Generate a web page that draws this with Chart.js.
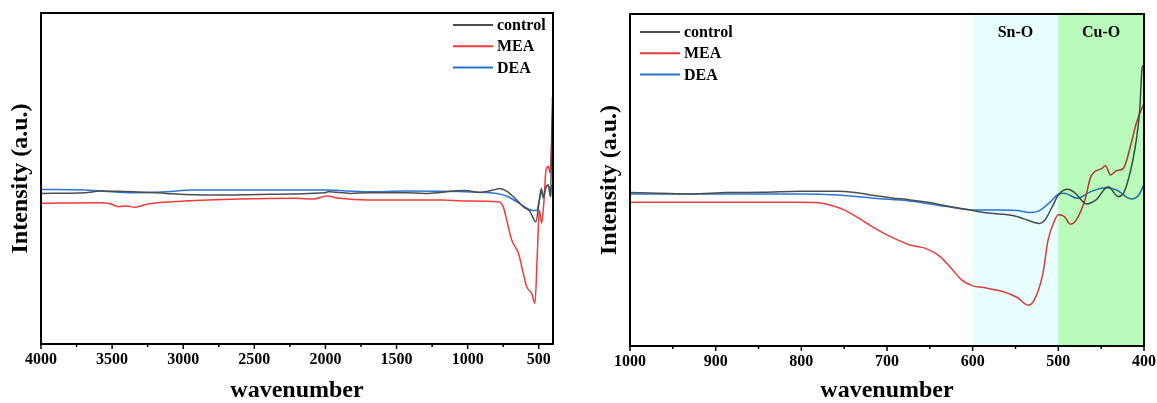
<!DOCTYPE html>
<html>
<head>
<meta charset="utf-8">
<script src="https://cdn.jsdelivr.net/npm/chart.js@4.4.1/dist/chart.umd.min.js"></script>
<style>
  html, body { margin: 0; padding: 0; background: #fff; }
  #wrap { position: relative; width: 1157px; height: 403px; }
  #c1 { position: absolute; left: 0; top: 0; width: 580px; height: 403px; }
  #c2 { position: absolute; left: 580px; top: 0; width: 577px; height: 403px; }
</style>
</head>
<body>
<div id="wrap">
  <canvas id="c1" width="580" height="403"></canvas>
  <canvas id="c2" width="577" height="403"></canvas>
</div>
<script>
// --- series names / colours ---
const seriesNames = ['control', 'MEA', 'DEA'];
const seriesColors = ['#4d4d4d', '#ef3b3b', '#2b74d6'];

// --- full spectrum 4000-400 (left panel) ---
const fullControlX = [4000, 3690, 3585, 3350, 3120, 2990, 2730, 2470, 2005, 1980, 1825, 1695, 1435, 1305, 1020, 913, 820, 773, 726, 679, 609, 562, 520, 496, 482, 468, 452, 433, 417, 404, 400];
const fullControlY = [45.5, 45.7, 46.2, 46.0, 45.5, 45.2, 45.0, 45.2, 45.7, 46.0, 45.5, 45.7, 45.7, 45.5, 46.4, 45.8, 46.5, 47.0, 46.2, 44.5, 41.5, 40.0, 36.9, 43.5, 47.0, 44.1, 47.0, 48.0, 44.5, 74.5, 46.0];

const fullMeaX = [4000, 3585, 3508, 3456, 3404, 3340, 3249, 2990, 2600, 2212, 2083, 1992, 1902, 1695, 1176, 1020, 785, 750, 726, 690, 643, 609, 585, 550, 527, 510, 496, 480, 463, 449, 433, 421, 409, 402, 400];
const fullMeaY = [42.5, 42.7, 42.3, 41.5, 41.7, 41.3, 42.3, 43.2, 43.8, 44.0, 43.8, 44.7, 44.0, 43.5, 43.5, 43.2, 43.0, 41.5, 37.5, 31.4, 27.4, 21.4, 17.3, 15.3, 12.3, 27.5, 40.5, 36.5, 43.5, 52.6, 53.6, 51.7, 60.7, 67.7, 52.6];

const fullDeaX = [4000, 3690, 3378, 3119, 2938, 2470, 2005, 1695, 1435, 1020, 797, 726, 656, 585, 538, 515, 496, 482, 468, 452, 433, 417, 409, 400];
const fullDeaY = [46.7, 46.5, 45.7, 46.0, 46.5, 46.5, 46.5, 46.0, 46.2, 46.0, 45.5, 44.7, 43.0, 41.0, 40.3, 40.3, 43.5, 46.0, 44.5, 47.5, 48.0, 44.5, 48.0, 45.5];

// --- zoomed 1000-400 (right panel) ---
const zoomControlX = [1000, 966, 930, 887, 844, 801, 758, 737, 715, 694, 673, 651, 630, 600, 587, 565, 552, 540, 527, 522, 516, 507, 500, 489, 481, 467, 456, 442, 430, 424, 419, 413, 409, 405, 402, 400];
const zoomControlY = [46.2, 46.0, 45.8, 46.2, 46.3, 46.6, 46.6, 46.2, 45.3, 44.6, 44.0, 43.2, 42.2, 40.8, 40.2, 39.7, 39.2, 38.3, 37.1, 36.9, 37.8, 42.0, 45.5, 47.2, 46.2, 42.8, 44.0, 48.0, 45.0, 46.0, 49.5, 56.0, 62.0, 71.1, 84.1, 84.5];

const zoomMeaX = [1000, 930, 801, 784, 767, 750, 733, 715, 694, 673, 655, 638, 625, 613, 600, 587, 565, 548, 535, 527, 518, 512, 505, 500, 493, 486, 479, 469, 462, 449, 445, 439, 432, 424, 415, 409, 400];
const zoomMeaY = [43.3, 43.3, 43.3, 43.2, 42.5, 41.0, 38.5, 35.6, 32.7, 30.4, 29.4, 26.9, 23.4, 19.9, 18.1, 17.6, 16.4, 14.6, 12.3, 14.4, 21.9, 31.9, 37.4, 39.5, 39.0, 36.7, 38.0, 44.0, 51.0, 53.5, 54.3, 51.5, 52.8, 53.5, 61.0, 67.1, 73.1];

const zoomDeaX = [1000, 930, 801, 758, 715, 673, 630, 600, 565, 548, 533, 522, 509, 500, 493, 478, 462, 445, 432, 415, 406, 400];
const zoomDeaY = [45.8, 45.8, 45.8, 45.5, 44.5, 43.7, 42.0, 41.0, 41.0, 40.8, 40.2, 40.8, 43.5, 45.7, 46.0, 44.5, 46.5, 47.7, 47.0, 44.3, 45.5, 48.7];

// --- tick labels (minor ticks sit halfway between) ---
const fullTickLabels = [4000, 3500, 3000, 2500, 2000, 1500, 1000, 500];
const zoomTickLabels = [1000, 900, 800, 700, 600, 500, 400];

// --- assignment bands (right panel) ---
const bandNames = ['Sn-O', 'Cu-O'];
const bandFrom = [600, 500];
const bandTo = [500, 400];

const SERIF = '"Liberation Serif", "Times New Roman", serif';

function pairs(xs, ys) {
    return xs.map((x, i) => ({ x: x, y: ys[i] }));
}

function makeDatasets(sets) {
    return sets.map((s, i) => ({
        label: seriesNames[i],
        data: pairs(s[0], s[1]),
        borderColor: seriesColors[i],
        borderWidth: 1.5,
        pointRadius: 0,
        fill: false,
        cubicInterpolationMode: 'monotone'
    }));
}

// major + half-way minor ticks
function withMinor(major) {
    const out = [];
    major.forEach((v, i) => {
        out.push(v);
        if (i < major.length - 1) out.push((v + major[i + 1]) / 2);
    });
    return out;
}

// frame, tick marks, legend, bands
function decoPlugin(o) {
    return {
        id: 'deco',
        afterDatasetsDraw(chart) {
            const ctx = chart.ctx;
            const a = chart.chartArea;
            const xs = chart.scales.x;
            ctx.save();

            if (o.bands) {
                // multiply so lines underneath take the band tint
                ctx.globalCompositeOperation = 'multiply';
                o.bands.forEach((b, i) => {
                    const x1 = xs.getPixelForValue(bandFrom[i]);
                    const x2 = xs.getPixelForValue(bandTo[i]);
                    ctx.fillStyle = b;
                    ctx.fillRect(Math.min(x1, x2), a.top, Math.abs(x2 - x1), a.bottom - a.top);
                });
                ctx.globalCompositeOperation = 'source-over';
                ctx.fillStyle = '#000';
                ctx.font = 'bold 16px ' + SERIF;
                ctx.textAlign = 'center';
                ctx.textBaseline = 'middle';
                bandNames.forEach((n, i) => {
                    const cx = (xs.getPixelForValue(bandFrom[i]) + xs.getPixelForValue(bandTo[i])) / 2;
                    ctx.fillText(n, cx, a.top + 19);
                });
            }

            // frame
            ctx.strokeStyle = '#000';
            ctx.lineWidth = 2;
            ctx.strokeRect(a.left, a.top, a.right - a.left, a.bottom - a.top);

            // ticks (major longer)
            ctx.lineWidth = 1.5;
            xs.ticks.forEach(t => {
                const px = xs.getPixelForValue(t.value);
                const len = o.major.includes(t.value) ? 5 : 3;
                ctx.beginPath();
                ctx.moveTo(px, a.bottom);
                ctx.lineTo(px, a.bottom + len);
                ctx.stroke();
            });

            // legend
            const L = o.legend;
            ctx.font = 'bold 16px ' + SERIF;
            ctx.textAlign = 'left';
            ctx.textBaseline = 'middle';
            chart.data.datasets.forEach((ds, i) => {
                const y = L.y0 + i * L.dy;
                ctx.strokeStyle = ds.borderColor;
                ctx.lineWidth = 2;
                ctx.beginPath();
                ctx.moveTo(L.x1, y);
                ctx.lineTo(L.x2, y);
                ctx.stroke();
                ctx.fillStyle = '#000';
                ctx.fillText(ds.label, L.tx, y + 1);
            });

            ctx.restore();
        }
    };
}

function makeChart(id, sets, o) {
    const tickValues = withMinor(o.major);
    return new Chart(document.getElementById(id), {
        type: 'line',
        data: { datasets: makeDatasets(sets) },
        options: {
            responsive: false,
            animation: false,
            layout: { padding: { top: o.top, right: o.right, left: 0, bottom: 0 } },
            plugins: { legend: { display: false }, tooltip: { enabled: false } },
            scales: {
                x: {
                    type: 'linear',
                    reverse: true,
                    min: o.min,
                    max: o.max,
                    afterBuildTicks: s => { s.ticks = tickValues.map(v => ({ value: v })); },
                    afterFit: s => {
                        s.height = o.xHeight;
                        s.paddingLeft = 0;
                        s.paddingRight = 0;
                    },
                    grid: { display: false, drawTicks: false },
                    border: { display: false },
                    ticks: {
                        autoSkip: false,
                        maxRotation: 0,
                        padding: 6,
                        color: '#000',
                        font: { family: SERIF, size: 16, weight: 'bold' },
                        callback: v => (o.major.includes(v) ? String(v) : '')
                    },
                    title: {
                        display: true,
                        text: 'wavenumber',
                        color: '#000',
                        padding: 0,
                        font: { family: SERIF, size: 24, weight: 'bold', lineHeight: 1 }
                    }
                },
                y: {
                    min: 0,
                    max: 100,
                    afterFit: s => { s.width = o.yWidth; },
                    grid: { display: false, drawTicks: false },
                    border: { display: false },
                    ticks: { display: false },
                    title: {
                        display: true,
                        text: 'Intensity (a.u.)',
                        color: '#000',
                        padding: { top: o.yTitlePad, bottom: 0 },
                        font: { family: SERIF, size: 24, weight: 'bold', lineHeight: 1 }
                    }
                }
            }
        },
        plugins: [decoPlugin(o)]
    });
}

makeChart('c1',
    [[fullControlX, fullControlY], [fullMeaX, fullMeaY], [fullDeaX, fullDeaY]],
    {
        min: 400, max: 4000, major: fullTickLabels,
        top: 13, right: 27, xHeight: 59, yWidth: 41, yTitlePad: 9,
        legend: { x1: 453, x2: 493, tx: 497, y0: 25, dy: 21.3 }
    });

makeChart('c2',
    [[zoomControlX, zoomControlY], [zoomMeaX, zoomMeaY], [zoomDeaX, zoomDeaY]],
    {
        min: 400, max: 1000, major: zoomTickLabels,
        top: 14, right: 13, xHeight: 57, yWidth: 50, yTitlePad: 18,
        bands: ['#e8feff', '#bafaba'],
        legend: { x1: 60, x2: 100, tx: 104, y0: 32, dy: 21.3 }
    });
</script>
</body>
</html>
